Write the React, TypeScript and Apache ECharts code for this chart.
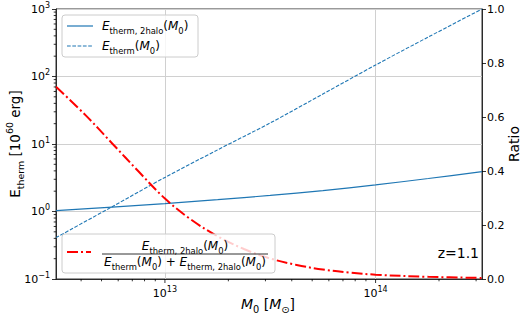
import React, { useEffect, useRef } from 'react';
import * as echarts from 'echarts';

const FF = 'DejaVu Sans';

// halo masses [M_sun]
const masses = [3.04e12, 5.62e12, 1e13, 1.78e13, 3.16e13, 5.62e13, 1e14, 1.78e14, 3.2e14];
// E_therm,2halo [1e60 erg]
const eTwoHalo = [1.03, 1.16, 1.31, 1.5, 1.73, 2.04, 2.48, 3.08, 3.89];
// E_therm [1e60 erg]
const eTherm = [0.41, 1.18, 3.2, 8.2, 20.5, 55, 148, 385, 1000];
// ratio curve
const ratioMasses = [3.04e12, 4.22e12, 5.62e12, 7.5e12, 1e13, 1.33e13, 1.78e13, 2.37e13, 3.16e13, 4.22e13, 5.62e13, 7.5e13, 1e14, 1.78e14, 3.2e14];
const ratio = [0.712, 0.605, 0.502, 0.398, 0.298, 0.22, 0.158, 0.111, 0.076, 0.052, 0.035, 0.024, 0.016, 0.008, 0.004];

const X_MIN = 3.04e12;
const X_MAX = 3.2e14;
const Y_MIN = 0.1;
const Y_MAX = 1000;
const xMajorTicks = [1e13, 1e14];
const xMinorTicks = [4e12, 5e12, 6e12, 7e12, 8e12, 9e12, 2e13, 3e13, 4e13, 5e13, 6e13, 7e13, 8e13, 9e13, 2e14, 3e14];
const yMinorTicks = [0.2, 0.3, 0.4, 0.5, 0.6, 0.7, 0.8, 0.9, 2, 3, 4, 5, 6, 7, 8, 9, 20, 30, 40, 50, 60, 70, 80, 90, 200, 300, 400, 500, 600, 700, 800, 900];
const ratioTicks = [0, 0.2, 0.4, 0.6, 0.8, 1.0];

const BLUE = '#1f77b4';
const RED = '#ff0000';

const supRich = {
  b: { fontFamily: FF, fontSize: 11, color: '#000', lineHeight: 16 },
  e: { fontFamily: FF, fontSize: 8, color: '#000', lineHeight: 9, verticalAlign: 'top' },
};

const mr = (size: number) => ({
  i: { fontFamily: FF, fontStyle: 'italic', fontSize: size, lineHeight: size * 1.5, color: '#000' },
  r: { fontFamily: FF, fontSize: size, lineHeight: size * 1.5, color: '#000' },
  s: { fontFamily: FF, fontSize: size * 0.7, lineHeight: size, verticalAlign: 'bottom', color: '#000' },
  p: { fontFamily: FF, fontSize: size * 0.7, lineHeight: size, verticalAlign: 'top', color: '#000' },
});

const powLabel = (v: number) => {
  const e = Math.log10(v);
  const r = Math.round(e);
  if (Math.abs(e - r) > 1e-6) return '';
  return `{b|10}{e|${r < 0 ? '\u2212' + Math.abs(r) : r}}`;
};

const tickSeries = (data: number[][], dir: 'down' | 'left', len: number) => ({
  type: 'custom',
  xAxisIndex: 0,
  yAxisIndex: 0,
  silent: true,
  clip: false,
  z: 10,
  data,
  renderItem: (_p: any, api: any) => {
    const pt = api.coord([api.value(0), api.value(1)]);
    const shape =
      dir === 'down'
        ? { x1: pt[0], y1: pt[1], x2: pt[0], y2: pt[1] + len }
        : { x1: pt[0], y1: pt[1], x2: pt[0] - len, y2: pt[1] };
    return { type: 'line', shape, style: { stroke: '#000', lineWidth: 0.8 } };
  },
});

const num = '{i|E}{s|therm, 2halo}{r|(}{i|M}{s|0}{r|)}';
const den = '{i|E}{s|therm}{r|(}{i|M}{s|0}{r|) + }{i|E}{s|therm, 2halo}{r|(}{i|M}{s|0}{r|)}';

export default function App() {
  const ref = useRef<HTMLDivElement>(null);
  useEffect(() => {
    const chart = echarts.init(ref.current!, null, { renderer: 'svg' });
    const option: any = {
      animation: false,
      backgroundColor: '#fff',
      grid: { left: 56, right: 44, top: 9, bottom: 38, show: true, borderColor: '#000', borderWidth: 0.8, backgroundColor: 'transparent' },
      xAxis: {
        type: 'log',
        logBase: 10,
        min: X_MIN,
        max: X_MAX,
        axisLine: { show: true, lineStyle: { color: '#000', width: 0.8 } },
        axisTick: { show: false },
        splitLine: { show: true, lineStyle: { color: '#d0d0d0', width: 1 } },
        axisLabel: { margin: 6, formatter: powLabel, rich: supRich, showMinLabel: false, showMaxLabel: false },
      },
      yAxis: [
        {
          type: 'log',
          logBase: 10,
          min: Y_MIN,
          max: Y_MAX,
          axisLine: { show: true, lineStyle: { color: '#000', width: 0.8 } },
          axisTick: { show: true, length: 4, lineStyle: { color: '#000', width: 0.8 } },
          splitLine: { show: true, lineStyle: { color: '#d0d0d0', width: 1 } },
          axisLabel: { margin: 6, formatter: powLabel, rich: supRich },
        },
        {
          type: 'value',
          position: 'right',
          min: 0,
          max: 1,
          interval: 0.2,
          axisLine: { show: true, lineStyle: { color: '#000', width: 0.8 } },
          axisTick: { show: true, length: 4, lineStyle: { color: '#000', width: 0.8 } },
          splitLine: { show: false },
          axisLabel: {
            margin: 5,
            color: '#000',
            fontFamily: FF,
            fontSize: 11,
            formatter: (v: number) => (ratioTicks.some((t) => Math.abs(t - v) < 1e-9) ? v.toFixed(1) : ''),
          },
        },
      ],
      series: [
        {
          type: 'line',
          name: 'E2halo',
          xAxisIndex: 0,
          yAxisIndex: 0,
          data: masses.map((m, i) => [m, eTwoHalo[i]]),
          showSymbol: false,
          smooth: 0.3,
          lineStyle: { color: BLUE, width: 1.2 },
          z: 3,
        },
        {
          type: 'line',
          name: 'Etherm',
          xAxisIndex: 0,
          yAxisIndex: 0,
          data: masses.map((m, i) => [m, eTherm[i]]),
          showSymbol: false,
          smooth: 0.3,
          lineStyle: { color: BLUE, width: 1.1, type: [3.7, 1.6] },
          z: 3,
        },
        {
          type: 'line',
          name: 'ratio',
          xAxisIndex: 0,
          yAxisIndex: 1,
          data: ratioMasses.map((m, i) => [m, ratio[i]]),
          showSymbol: false,
          smooth: 0.35,
          lineStyle: { color: RED, width: 2, type: [11, 3, 2, 3] },
          z: 3,
        },
        tickSeries(xMinorTicks.map((v) => [v, Y_MIN]), 'down', 2.3),
        tickSeries(xMajorTicks.map((v) => [v, Y_MIN]), 'down', 4),
        tickSeries(yMinorTicks.map((v) => [X_MIN, v]), 'left', 2.3),
      ],
      graphic: [
        // legend 1
        { type: 'rect', z: 100, shape: { x: 62, y: 15, width: 136, height: 42, r: 3 }, style: { fill: 'rgba(255,255,255,0.8)', stroke: '#cccccc', lineWidth: 1 } },
        { type: 'line', z: 101, shape: { x1: 67, y1: 26, x2: 93, y2: 26 }, style: { stroke: BLUE, lineWidth: 1.2 } },
        { type: 'text', z: 101, x: 102, y: 26, style: { text: num, rich: mr(12), align: 'left', verticalAlign: 'middle' } },
        { type: 'line', z: 101, shape: { x1: 67, y1: 46, x2: 93, y2: 46 }, style: { stroke: BLUE, lineWidth: 1.1, lineDash: [3.7, 1.6] } },
        { type: 'text', z: 101, x: 102, y: 46, style: { text: '{i|E}{s|therm}{r|(}{i|M}{s|0}{r|)}', rich: mr(12), align: 'left', verticalAlign: 'middle' } },
        // legend 2
        { type: 'rect', z: 100, shape: { x: 62, y: 234, width: 213, height: 39, r: 3 }, style: { fill: 'rgba(255,255,255,0.8)', stroke: '#cccccc', lineWidth: 1 } },
        { type: 'line', z: 101, shape: { x1: 67, y1: 252, x2: 91, y2: 252 }, style: { stroke: RED, lineWidth: 2, lineDash: [11, 3, 2, 3] } },
        { type: 'text', z: 101, x: 185, y: 246, style: { text: num, rich: mr(12), align: 'center', verticalAlign: 'middle' } },
        { type: 'line', z: 101, shape: { x1: 102, y1: 254, x2: 268, y2: 254 }, style: { stroke: '#333', lineWidth: 1 } },
        { type: 'text', z: 101, x: 185, y: 262, style: { text: den, rich: mr(12), align: 'center', verticalAlign: 'middle' } },
        // annotation
        { type: 'text', z: 101, x: 479, y: 253, style: { text: 'z=1.1', fontFamily: FF, fontSize: 14, fill: '#000', align: 'right', verticalAlign: 'middle' } },
        // axis titles
        { type: 'text', z: 101, x: 15, y: 144, rotation: Math.PI / 2, style: { text: '{r|E}{s|therm}{r| [10}{p|60}{r| erg]}', rich: mr(13.5), align: 'center', verticalAlign: 'middle' } },
        { type: 'text', z: 101, x: 514, y: 144, rotation: Math.PI / 2, style: { text: 'Ratio', fontFamily: FF, fontSize: 14, fill: '#000', align: 'center', verticalAlign: 'middle' } },
        { type: 'text', z: 101, x: 268, y: 304, style: { text: '{i|M}{s|0}{r| [}{i|M}{s|\u2299}{r|]}', rich: mr(14), align: 'center', verticalAlign: 'middle' } },
      ],
    };
    chart.setOption(option);
    return () => chart.dispose();
  }, []);
  return <div ref={ref} style={{ position: 'fixed', left: 0, top: 0, width: 526, height: 317 }} />;
}
